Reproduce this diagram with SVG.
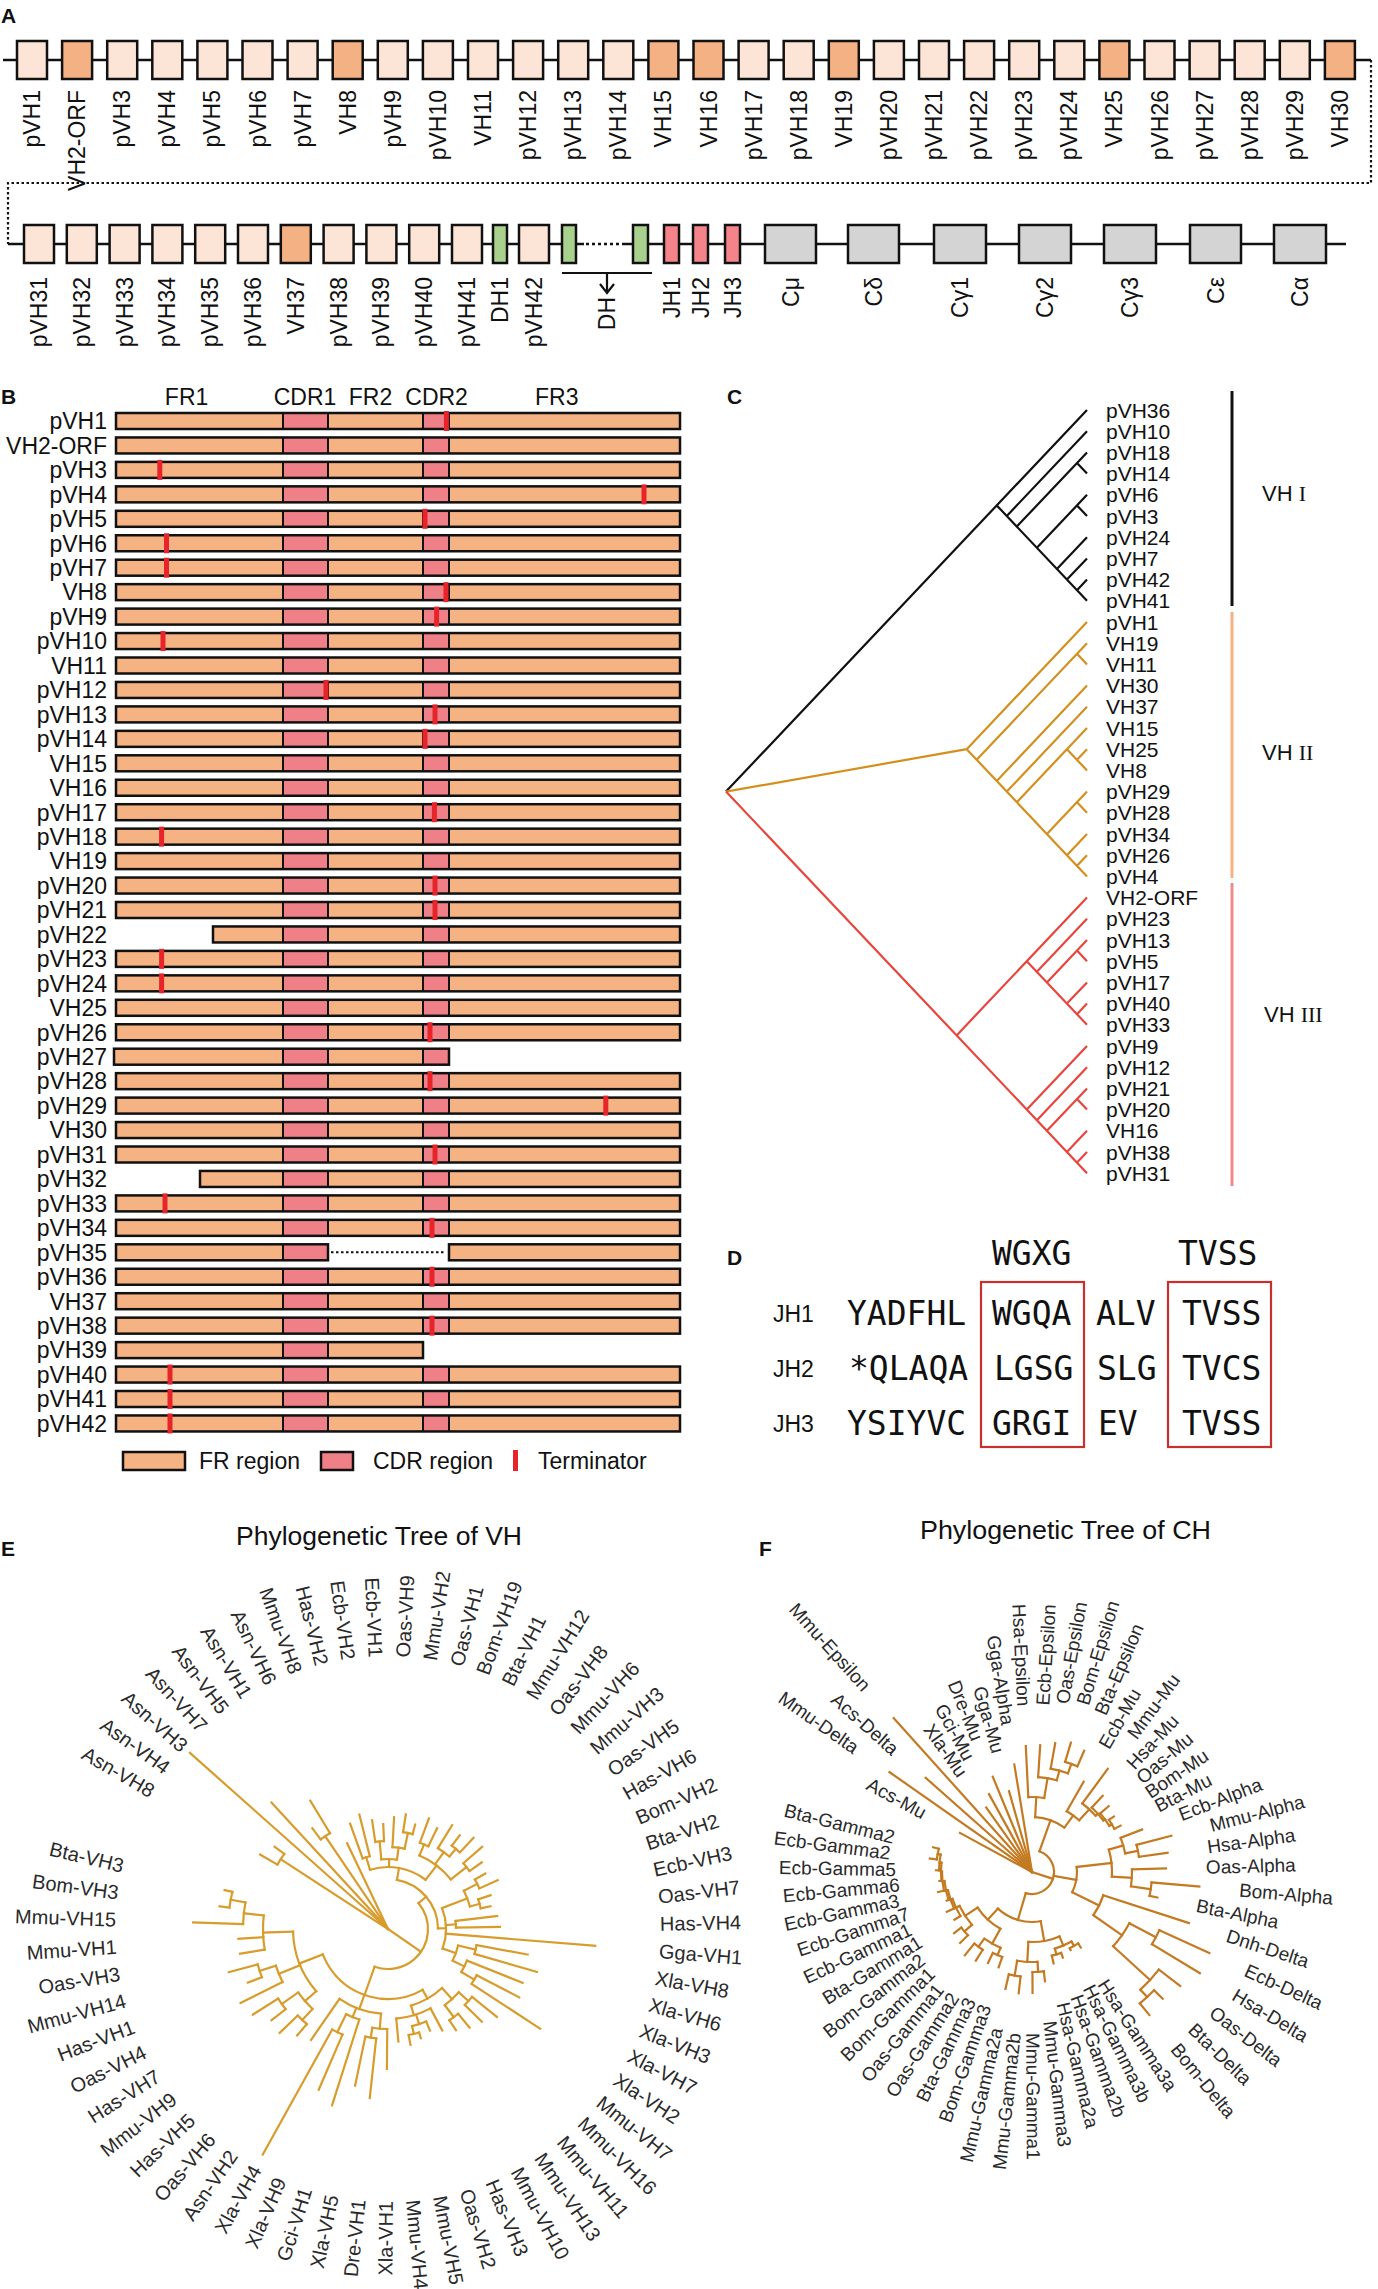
<svg xmlns="http://www.w3.org/2000/svg" width="1378" height="2289" viewBox="0 0 1378 2289">
<style>
text{font-family:"Liberation Sans",Arial,"DejaVu Sans",sans-serif;fill:#111}
.pl{font-size:21px;font-weight:bold}
.ga{font-size:23px}
.bx{stroke:#111;stroke-width:2.5}
.lt{fill:#FCE4D6}.dk{fill:#F4B183}.gr{fill:#A9D18E}.jr{fill:#F4838A}.gy{fill:#D4D4D4}
.fr{fill:#F5B283}.cd{fill:#EF8088}.tm{fill:#E8242B}
.ol{fill:none;stroke:#111;stroke-width:2.5}
.dv{stroke:#111;stroke-width:2}
.cl{font-size:21px}
.ck{fill:none;stroke:#111;stroke-width:2.2}
.co{fill:none;stroke:#D4901E;stroke-width:2.2}
.cr{fill:none;stroke:#E8453D;stroke-width:2.2}
.mono{font-family:"DejaVu Sans Mono","Liberation Mono",monospace;font-size:33px}
.e{fill:none;stroke:#D89C2C;stroke-width:2.2;stroke-linecap:square}
.f{fill:none;stroke:#C47A22;stroke-width:2.2;stroke-linecap:square}
.el{font-size:20px;fill:#2a2a2a}
.fl{font-size:19px;fill:#2a2a2a}
</style>
<defs>
<g id="bar">
<rect x="116" y="0" width="564" height="16" class="fr"/>
<rect x="283" y="0" width="45" height="16" class="cd"/>
<rect x="423" y="0" width="26" height="16" class="cd"/>
<path d="M283,0V16M328,0V16M423,0V16M449,0V16" class="dv"/>
<rect x="116" y="0" width="564" height="16" class="ol"/>
</g>
</defs>
<rect width="1378" height="2289" fill="#fff"/>

<!-- ===== Panel A ===== -->
<text class="pl" x="1" y="23">A</text>
<g id="connectors-A">
<path d="M3,60H1371" stroke="#111" stroke-width="2.5"/>
<path d="M1371,60V183H8V244" fill="none" stroke="#111" stroke-width="2.2" stroke-dasharray="2.5 2.5"/>
<path d="M8,244H584M622,244H1346" stroke="#111" stroke-width="2.5"/>
<path d="M586,244H622" stroke="#111" stroke-width="2.5" stroke-dasharray="3 3"/>
<path d="M562,273H652M607,273V292M600,284L607,293L614,284" fill="none" stroke="#111" stroke-width="2.2"/>
</g>
<g id="row1">
<g id="a-pVH1"><rect x="17" y="41" width="30" height="38" class="lt bx"/><text class="ga" text-anchor="end" dy="8" transform="translate(32,90) rotate(-90)">pVH1</text></g>
<g id="a-VH2-ORF"><rect x="62.1" y="41" width="30" height="38" class="dk bx"/><text class="ga" text-anchor="end" dy="8" transform="translate(77.1,90) rotate(-90)">VH2-ORF</text></g>
<g id="a-pVH3"><rect x="107.2" y="41" width="30" height="38" class="lt bx"/><text class="ga" text-anchor="end" dy="8" transform="translate(122.2,90) rotate(-90)">pVH3</text></g>
<g id="a-pVH4"><rect x="152.3" y="41" width="30" height="38" class="lt bx"/><text class="ga" text-anchor="end" dy="8" transform="translate(167.3,90) rotate(-90)">pVH4</text></g>
<g id="a-pVH5"><rect x="197.4" y="41" width="30" height="38" class="lt bx"/><text class="ga" text-anchor="end" dy="8" transform="translate(212.4,90) rotate(-90)">pVH5</text></g>
<g id="a-pVH6"><rect x="242.5" y="41" width="30" height="38" class="lt bx"/><text class="ga" text-anchor="end" dy="8" transform="translate(257.5,90) rotate(-90)">pVH6</text></g>
<g id="a-pVH7"><rect x="287.6" y="41" width="30" height="38" class="lt bx"/><text class="ga" text-anchor="end" dy="8" transform="translate(302.6,90) rotate(-90)">pVH7</text></g>
<g id="a-VH8"><rect x="332.7" y="41" width="30" height="38" class="dk bx"/><text class="ga" text-anchor="end" dy="8" transform="translate(347.7,90) rotate(-90)">VH8</text></g>
<g id="a-pVH9"><rect x="377.8" y="41" width="30" height="38" class="lt bx"/><text class="ga" text-anchor="end" dy="8" transform="translate(392.8,90) rotate(-90)">pVH9</text></g>
<g id="a-pVH10"><rect x="422.9" y="41" width="30" height="38" class="lt bx"/><text class="ga" text-anchor="end" dy="8" transform="translate(437.9,90) rotate(-90)">pVH10</text></g>
<g id="a-VH11"><rect x="468" y="41" width="30" height="38" class="lt bx"/><text class="ga" text-anchor="end" dy="8" transform="translate(483,90) rotate(-90)">VH11</text></g>
<g id="a-pVH12"><rect x="513.1" y="41" width="30" height="38" class="lt bx"/><text class="ga" text-anchor="end" dy="8" transform="translate(528.1,90) rotate(-90)">pVH12</text></g>
<g id="a-pVH13"><rect x="558.2" y="41" width="30" height="38" class="lt bx"/><text class="ga" text-anchor="end" dy="8" transform="translate(573.2,90) rotate(-90)">pVH13</text></g>
<g id="a-pVH14"><rect x="603.3" y="41" width="30" height="38" class="lt bx"/><text class="ga" text-anchor="end" dy="8" transform="translate(618.3,90) rotate(-90)">pVH14</text></g>
<g id="a-VH15"><rect x="648.4" y="41" width="30" height="38" class="dk bx"/><text class="ga" text-anchor="end" dy="8" transform="translate(663.4,90) rotate(-90)">VH15</text></g>
<g id="a-VH16"><rect x="693.5" y="41" width="30" height="38" class="dk bx"/><text class="ga" text-anchor="end" dy="8" transform="translate(708.5,90) rotate(-90)">VH16</text></g>
<g id="a-pVH17"><rect x="738.6" y="41" width="30" height="38" class="lt bx"/><text class="ga" text-anchor="end" dy="8" transform="translate(753.6,90) rotate(-90)">pVH17</text></g>
<g id="a-pVH18"><rect x="783.7" y="41" width="30" height="38" class="lt bx"/><text class="ga" text-anchor="end" dy="8" transform="translate(798.7,90) rotate(-90)">pVH18</text></g>
<g id="a-VH19"><rect x="828.8" y="41" width="30" height="38" class="dk bx"/><text class="ga" text-anchor="end" dy="8" transform="translate(843.8,90) rotate(-90)">VH19</text></g>
<g id="a-pVH20"><rect x="873.9" y="41" width="30" height="38" class="lt bx"/><text class="ga" text-anchor="end" dy="8" transform="translate(888.9,90) rotate(-90)">pVH20</text></g>
<g id="a-pVH21"><rect x="919" y="41" width="30" height="38" class="lt bx"/><text class="ga" text-anchor="end" dy="8" transform="translate(934,90) rotate(-90)">pVH21</text></g>
<g id="a-pVH22"><rect x="964.1" y="41" width="30" height="38" class="lt bx"/><text class="ga" text-anchor="end" dy="8" transform="translate(979.1,90) rotate(-90)">pVH22</text></g>
<g id="a-pVH23"><rect x="1009.2" y="41" width="30" height="38" class="lt bx"/><text class="ga" text-anchor="end" dy="8" transform="translate(1024.2,90) rotate(-90)">pVH23</text></g>
<g id="a-pVH24"><rect x="1054.3" y="41" width="30" height="38" class="lt bx"/><text class="ga" text-anchor="end" dy="8" transform="translate(1069.3,90) rotate(-90)">pVH24</text></g>
<g id="a-VH25"><rect x="1099.4" y="41" width="30" height="38" class="dk bx"/><text class="ga" text-anchor="end" dy="8" transform="translate(1114.4,90) rotate(-90)">VH25</text></g>
<g id="a-pVH26"><rect x="1144.5" y="41" width="30" height="38" class="lt bx"/><text class="ga" text-anchor="end" dy="8" transform="translate(1159.5,90) rotate(-90)">pVH26</text></g>
<g id="a-pVH27"><rect x="1189.6" y="41" width="30" height="38" class="lt bx"/><text class="ga" text-anchor="end" dy="8" transform="translate(1204.6,90) rotate(-90)">pVH27</text></g>
<g id="a-pVH28"><rect x="1234.7" y="41" width="30" height="38" class="lt bx"/><text class="ga" text-anchor="end" dy="8" transform="translate(1249.7,90) rotate(-90)">pVH28</text></g>
<g id="a-pVH29"><rect x="1279.8" y="41" width="30" height="38" class="lt bx"/><text class="ga" text-anchor="end" dy="8" transform="translate(1294.8,90) rotate(-90)">pVH29</text></g>
<g id="a-VH30"><rect x="1324.9" y="41" width="30" height="38" class="dk bx"/><text class="ga" text-anchor="end" dy="8" transform="translate(1339.9,90) rotate(-90)">VH30</text></g>
</g>
<g id="row2">
<g id="a-pVH31"><rect x="24" y="225" width="30" height="38" class="lt bx"/><text class="ga" text-anchor="end" dy="8" transform="translate(39,277) rotate(-90)">pVH31</text></g>
<g id="a-pVH32"><rect x="66.8" y="225" width="30" height="38" class="lt bx"/><text class="ga" text-anchor="end" dy="8" transform="translate(81.8,277) rotate(-90)">pVH32</text></g>
<g id="a-pVH33"><rect x="109.6" y="225" width="30" height="38" class="lt bx"/><text class="ga" text-anchor="end" dy="8" transform="translate(124.6,277) rotate(-90)">pVH33</text></g>
<g id="a-pVH34"><rect x="152.4" y="225" width="30" height="38" class="lt bx"/><text class="ga" text-anchor="end" dy="8" transform="translate(167.4,277) rotate(-90)">pVH34</text></g>
<g id="a-pVH35"><rect x="195.2" y="225" width="30" height="38" class="lt bx"/><text class="ga" text-anchor="end" dy="8" transform="translate(210.2,277) rotate(-90)">pVH35</text></g>
<g id="a-pVH36"><rect x="238" y="225" width="30" height="38" class="lt bx"/><text class="ga" text-anchor="end" dy="8" transform="translate(253,277) rotate(-90)">pVH36</text></g>
<g id="a-VH37"><rect x="280.8" y="225" width="30" height="38" class="dk bx"/><text class="ga" text-anchor="end" dy="8" transform="translate(295.8,277) rotate(-90)">VH37</text></g>
<g id="a-pVH38"><rect x="323.6" y="225" width="30" height="38" class="lt bx"/><text class="ga" text-anchor="end" dy="8" transform="translate(338.6,277) rotate(-90)">pVH38</text></g>
<g id="a-pVH39"><rect x="366.4" y="225" width="30" height="38" class="lt bx"/><text class="ga" text-anchor="end" dy="8" transform="translate(381.4,277) rotate(-90)">pVH39</text></g>
<g id="a-pVH40"><rect x="409.2" y="225" width="30" height="38" class="lt bx"/><text class="ga" text-anchor="end" dy="8" transform="translate(424.2,277) rotate(-90)">pVH40</text></g>
<g id="a-pVH41"><rect x="452" y="225" width="30" height="38" class="lt bx"/><text class="ga" text-anchor="end" dy="8" transform="translate(467,277) rotate(-90)">pVH41</text></g>
<g id="a-DH1"><rect x="493" y="225" width="14" height="38" class="gr bx"/><text class="ga" text-anchor="end" dy="8" transform="translate(500,277) rotate(-90)">DH1</text></g>
<g id="a-pVH42"><rect x="519" y="225" width="30" height="38" class="lt bx"/><text class="ga" text-anchor="end" dy="8" transform="translate(534,277) rotate(-90)">pVH42</text></g>
<g id="a-DH"><rect x="562" y="225" width="14" height="38" class="gr bx"/><rect x="633" y="225" width="15" height="38" class="gr bx"/><text class="ga" text-anchor="end" dy="8" transform="translate(607,297) rotate(-90)">DH</text></g>
<g id="a-JH1"><rect x="664" y="225" width="15" height="38" class="jr bx"/><text class="ga" text-anchor="end" dy="8" transform="translate(671.5,277) rotate(-90)">JH1</text></g>
<g id="a-JH2"><rect x="693" y="225" width="15" height="38" class="jr bx"/><text class="ga" text-anchor="end" dy="8" transform="translate(700.5,277) rotate(-90)">JH2</text></g>
<g id="a-JH3"><rect x="725" y="225" width="15" height="38" class="jr bx"/><text class="ga" text-anchor="end" dy="8" transform="translate(732.5,277) rotate(-90)">JH3</text></g>
<g id="a-Cmu"><rect x="765" y="225" width="51" height="38" class="gy bx"/><text class="ga" text-anchor="end" dy="8" transform="translate(790.5,277) rotate(-90)">Cμ</text></g>
<g id="a-Cdelta"><rect x="848" y="225" width="51" height="38" class="gy bx"/><text class="ga" text-anchor="end" dy="8" transform="translate(873.5,277) rotate(-90)">Cδ</text></g>
<g id="a-Cgamma1"><rect x="934" y="225" width="52" height="38" class="gy bx"/><text class="ga" text-anchor="end" dy="8" transform="translate(960,277) rotate(-90)">Cγ1</text></g>
<g id="a-Cgamma2"><rect x="1019" y="225" width="52" height="38" class="gy bx"/><text class="ga" text-anchor="end" dy="8" transform="translate(1045,277) rotate(-90)">Cγ2</text></g>
<g id="a-Cgamma3"><rect x="1104" y="225" width="52" height="38" class="gy bx"/><text class="ga" text-anchor="end" dy="8" transform="translate(1130,277) rotate(-90)">Cγ3</text></g>
<g id="a-Cepsilon"><rect x="1190" y="225" width="51" height="38" class="gy bx"/><text class="ga" text-anchor="end" dy="8" transform="translate(1215.5,277) rotate(-90)">Cε</text></g>
<g id="a-Calpha"><rect x="1274" y="225" width="52" height="38" class="gy bx"/><text class="ga" text-anchor="end" dy="8" transform="translate(1300,277) rotate(-90)">Cα</text></g>
</g>

<!-- ===== Panel B ===== -->
<text class="pl" x="1" y="404">B</text>
<g id="b-header" class="ga">
<text x="186.6" y="405" text-anchor="middle" class="ga">FR1</text>
<text x="305" y="405" text-anchor="middle" class="ga">CDR1</text>
<text x="370.5" y="405" text-anchor="middle" class="ga">FR2</text>
<text x="436.6" y="405" text-anchor="middle" class="ga">CDR2</text>
<text x="556.7" y="405" text-anchor="middle" class="ga">FR3</text>
</g>
<g id="b-rows">
<g id="b-pVH1"><text x="107" y="429.3" text-anchor="end" class="ga">pVH1</text><use href="#bar" y="413"/><rect class="tm" x="443.9" y="411" width="5" height="20"/></g>
<g id="b-VH2-ORF"><text x="107" y="453.75" text-anchor="end" class="ga">VH2-ORF</text><use href="#bar" y="437.45"/></g>
<g id="b-pVH3"><text x="107" y="478.2" text-anchor="end" class="ga">pVH3</text><use href="#bar" y="461.9"/><rect class="tm" x="157.3" y="459.9" width="5" height="20"/></g>
<g id="b-pVH4"><text x="107" y="502.65" text-anchor="end" class="ga">pVH4</text><use href="#bar" y="486.35"/><rect class="tm" x="641.5" y="484.35" width="5" height="20"/></g>
<g id="b-pVH5"><text x="107" y="527.1" text-anchor="end" class="ga">pVH5</text><use href="#bar" y="510.8"/><rect class="tm" x="422.5" y="508.8" width="5" height="20"/></g>
<g id="b-pVH6"><text x="107" y="551.55" text-anchor="end" class="ga">pVH6</text><use href="#bar" y="535.25"/><rect class="tm" x="164" y="533.25" width="5" height="20"/></g>
<g id="b-pVH7"><text x="107" y="576" text-anchor="end" class="ga">pVH7</text><use href="#bar" y="559.7"/><rect class="tm" x="164" y="557.7" width="5" height="20"/></g>
<g id="b-VH8"><text x="107" y="600.45" text-anchor="end" class="ga">VH8</text><use href="#bar" y="584.15"/><rect class="tm" x="443.5" y="582.15" width="5" height="20"/></g>
<g id="b-pVH9"><text x="107" y="624.9" text-anchor="end" class="ga">pVH9</text><use href="#bar" y="608.6"/><rect class="tm" x="434.1" y="606.6" width="5" height="20"/></g>
<g id="b-pVH10"><text x="107" y="649.35" text-anchor="end" class="ga">pVH10</text><use href="#bar" y="633.05"/><rect class="tm" x="160.5" y="631.05" width="5" height="20"/></g>
<g id="b-VH11"><text x="107" y="673.8" text-anchor="end" class="ga">VH11</text><use href="#bar" y="657.5"/></g>
<g id="b-pVH12"><text x="107" y="698.25" text-anchor="end" class="ga">pVH12</text><use href="#bar" y="681.95"/><rect class="tm" x="323.5" y="679.95" width="5" height="20"/></g>
<g id="b-pVH13"><text x="107" y="722.7" text-anchor="end" class="ga">pVH13</text><use href="#bar" y="706.4"/><rect class="tm" x="432.5" y="704.4" width="5" height="20"/></g>
<g id="b-pVH14"><text x="107" y="747.15" text-anchor="end" class="ga">pVH14</text><use href="#bar" y="730.85"/><rect class="tm" x="422.5" y="728.85" width="5" height="20"/></g>
<g id="b-VH15"><text x="107" y="771.6" text-anchor="end" class="ga">VH15</text><use href="#bar" y="755.3"/></g>
<g id="b-VH16"><text x="107" y="796.05" text-anchor="end" class="ga">VH16</text><use href="#bar" y="779.75"/></g>
<g id="b-pVH17"><text x="107" y="820.5" text-anchor="end" class="ga">pVH17</text><use href="#bar" y="804.2"/><rect class="tm" x="431.9" y="802.2" width="5" height="20"/></g>
<g id="b-pVH18"><text x="107" y="844.95" text-anchor="end" class="ga">pVH18</text><use href="#bar" y="828.65"/><rect class="tm" x="159.1" y="826.65" width="5" height="20"/></g>
<g id="b-VH19"><text x="107" y="869.4" text-anchor="end" class="ga">VH19</text><use href="#bar" y="853.1"/></g>
<g id="b-pVH20"><text x="107" y="893.85" text-anchor="end" class="ga">pVH20</text><use href="#bar" y="877.55"/><rect class="tm" x="432.5" y="875.55" width="5" height="20"/></g>
<g id="b-pVH21"><text x="107" y="918.3" text-anchor="end" class="ga">pVH21</text><use href="#bar" y="902"/><rect class="tm" x="432.5" y="900" width="5" height="20"/></g>
<g id="b-pVH22"><text x="107" y="942.75" text-anchor="end" class="ga">pVH22</text><g transform="translate(0,926.45)"><rect x="213" y="0" width="467" height="16" class="fr"/><rect x="283" y="0" width="45" height="16" class="cd"/><rect x="423" y="0" width="26" height="16" class="cd"/><path d="M283,0V16M328,0V16M423,0V16M449,0V16" class="dv"/><rect x="213" y="0" width="467" height="16" class="ol"/></g></g>
<g id="b-pVH23"><text x="107" y="967.2" text-anchor="end" class="ga">pVH23</text><use href="#bar" y="950.9"/><rect class="tm" x="159.1" y="948.9" width="5" height="20"/></g>
<g id="b-pVH24"><text x="107" y="991.65" text-anchor="end" class="ga">pVH24</text><use href="#bar" y="975.35"/><rect class="tm" x="159.1" y="973.35" width="5" height="20"/></g>
<g id="b-VH25"><text x="107" y="1016.1" text-anchor="end" class="ga">VH25</text><use href="#bar" y="999.8"/></g>
<g id="b-pVH26"><text x="107" y="1040.55" text-anchor="end" class="ga">pVH26</text><use href="#bar" y="1024.25"/><rect class="tm" x="427.5" y="1022.25" width="5" height="20"/></g>
<g id="b-pVH27"><text x="107" y="1065" text-anchor="end" class="ga">pVH27</text><g transform="translate(0,1048.7)"><rect x="114" y="0" width="335" height="16" class="fr"/><rect x="283" y="0" width="45" height="16" class="cd"/><rect x="423" y="0" width="26" height="16" class="cd"/><path d="M283,0V16M328,0V16M423,0V16" class="dv"/><rect x="114" y="0" width="335" height="16" class="ol"/></g></g>
<g id="b-pVH28"><text x="107" y="1089.45" text-anchor="end" class="ga">pVH28</text><use href="#bar" y="1073.15"/><rect class="tm" x="427.5" y="1071.15" width="5" height="20"/></g>
<g id="b-pVH29"><text x="107" y="1113.9" text-anchor="end" class="ga">pVH29</text><use href="#bar" y="1097.6"/><rect class="tm" x="603.3" y="1095.6" width="5" height="20"/></g>
<g id="b-VH30"><text x="107" y="1138.35" text-anchor="end" class="ga">VH30</text><use href="#bar" y="1122.05"/></g>
<g id="b-pVH31"><text x="107" y="1162.8" text-anchor="end" class="ga">pVH31</text><use href="#bar" y="1146.5"/><rect class="tm" x="432.5" y="1144.5" width="5" height="20"/></g>
<g id="b-pVH32"><text x="107" y="1187.25" text-anchor="end" class="ga">pVH32</text><g transform="translate(0,1170.95)"><rect x="200" y="0" width="480" height="16" class="fr"/><rect x="283" y="0" width="45" height="16" class="cd"/><rect x="423" y="0" width="26" height="16" class="cd"/><path d="M283,0V16M328,0V16M423,0V16M449,0V16" class="dv"/><rect x="200" y="0" width="480" height="16" class="ol"/></g></g>
<g id="b-pVH33"><text x="107" y="1211.7" text-anchor="end" class="ga">pVH33</text><use href="#bar" y="1195.4"/><rect class="tm" x="162.5" y="1193.4" width="5" height="20"/></g>
<g id="b-pVH34"><text x="107" y="1236.15" text-anchor="end" class="ga">pVH34</text><use href="#bar" y="1219.85"/><rect class="tm" x="429.5" y="1217.85" width="5" height="20"/></g>
<g id="b-pVH35"><text x="107" y="1260.6" text-anchor="end" class="ga">pVH35</text><g transform="translate(0,1244.3)"><rect x="116" y="0" width="212" height="16" class="fr"/><rect x="283" y="0" width="45" height="16" class="cd"/><path d="M283,0V16" class="dv"/><rect x="116" y="0" width="212" height="16" class="ol"/><path d="M331,8H446" stroke="#111" stroke-width="2" stroke-dasharray="2.5 2.5"/><rect x="449" y="0" width="231" height="16" class="fr"/><rect x="449" y="0" width="231" height="16" class="ol"/></g></g>
<g id="b-pVH36"><text x="107" y="1285.05" text-anchor="end" class="ga">pVH36</text><use href="#bar" y="1268.75"/><rect class="tm" x="429.5" y="1266.75" width="5" height="20"/></g>
<g id="b-VH37"><text x="107" y="1309.5" text-anchor="end" class="ga">VH37</text><use href="#bar" y="1293.2"/></g>
<g id="b-pVH38"><text x="107" y="1333.95" text-anchor="end" class="ga">pVH38</text><use href="#bar" y="1317.65"/><rect class="tm" x="429.5" y="1315.65" width="5" height="20"/></g>
<g id="b-pVH39"><text x="107" y="1358.4" text-anchor="end" class="ga">pVH39</text><g transform="translate(0,1342.1)"><rect x="116" y="0" width="307" height="16" class="fr"/><rect x="283" y="0" width="45" height="16" class="cd"/><path d="M283,0V16M328,0V16" class="dv"/><rect x="116" y="0" width="307" height="16" class="ol"/></g></g>
<g id="b-pVH40"><text x="107" y="1382.85" text-anchor="end" class="ga">pVH40</text><use href="#bar" y="1366.55"/><rect class="tm" x="167.5" y="1364.55" width="5" height="20"/></g>
<g id="b-pVH41"><text x="107" y="1407.3" text-anchor="end" class="ga">pVH41</text><use href="#bar" y="1391"/><rect class="tm" x="167.5" y="1389" width="5" height="20"/></g>
<g id="b-pVH42"><text x="107" y="1431.75" text-anchor="end" class="ga">pVH42</text><use href="#bar" y="1415.45"/><rect class="tm" x="167.5" y="1413.45" width="5" height="20"/></g>
</g>
<g id="b-legend">
<rect x="123" y="1452" width="62" height="18" class="fr"/><rect x="123" y="1452" width="62" height="18" class="ol"/>
<text x="199" y="1469" class="ga">FR region</text>
<rect x="321" y="1452" width="32" height="18" class="cd"/><rect x="321" y="1452" width="32" height="18" class="ol"/>
<text x="373" y="1469" class="ga">CDR region</text>
<rect x="513" y="1450" width="5" height="21" class="tm"/>
<text x="538" y="1469" class="ga">Terminator</text>
</g>

<!-- ===== Panel C ===== -->
<text class="pl" x="727" y="404">C</text>
<g id="connectors-C">
<path class="ck" d="M726,791.6L1087,410M996.75,505.4L1087,600.8M1006.8,516L1087,431.2M1016.8,526.6L1087,452.4M1077,463L1087,473.6M1036.9,547.8L1087,494.8M1077,505.4L1087,516M1056.9,569L1087,537.2M1066.9,579.6L1087,558.4M1077,590.2L1087,579.6"/>
<path class="co" d="M726,791.6L966.7,749.2M966.7,749.2L1087,622M966.7,749.2L1087,876.4M976.7,759.8L1087,643.2M1077,653.8L1087,664.4M996.75,781L1087,685.6M1006.8,791.6L1087,706.8M1016.8,802.2L1087,728M1066.9,749.2L1087,770.4M1077,759.8L1087,749.2M1046.9,834L1087,791.6M1077,802.2L1087,812.8M1066.9,855.2L1087,834M1077,865.8L1087,855.2"/>
<path class="cr" d="M726,791.6L1087,1173.2M956.6,1035.4L1087,897.6M1026.8,961.2L1087,1024.8M1036.9,971.8L1087,918.8M1046.9,982.4L1087,940M1077,950.6L1087,961.2M1066.9,1003.6L1087,982.4M1077,1014.2L1087,1003.6M1026.8,1109.6L1087,1046M1036.9,1120.2L1087,1067.2M1046.9,1130.8L1087,1088.4M1077,1099L1087,1109.6M1066.9,1152L1087,1130.8M1077,1162.6L1087,1152"/>
</g>
<g id="c-leaves">
<text x="1106" y="417.5" class="cl">pVH36</text>
<text x="1106" y="438.7" class="cl">pVH10</text>
<text x="1106" y="459.9" class="cl">pVH18</text>
<text x="1106" y="481.1" class="cl">pVH14</text>
<text x="1106" y="502.3" class="cl">pVH6</text>
<text x="1106" y="523.5" class="cl">pVH3</text>
<text x="1106" y="544.7" class="cl">pVH24</text>
<text x="1106" y="565.9" class="cl">pVH7</text>
<text x="1106" y="587.1" class="cl">pVH42</text>
<text x="1106" y="608.3" class="cl">pVH41</text>
<text x="1106" y="629.5" class="cl">pVH1</text>
<text x="1106" y="650.7" class="cl">VH19</text>
<text x="1106" y="671.9" class="cl">VH11</text>
<text x="1106" y="693.1" class="cl">VH30</text>
<text x="1106" y="714.3" class="cl">VH37</text>
<text x="1106" y="735.5" class="cl">VH15</text>
<text x="1106" y="756.7" class="cl">VH25</text>
<text x="1106" y="777.9" class="cl">VH8</text>
<text x="1106" y="799.1" class="cl">pVH29</text>
<text x="1106" y="820.3" class="cl">pVH28</text>
<text x="1106" y="841.5" class="cl">pVH34</text>
<text x="1106" y="862.7" class="cl">pVH26</text>
<text x="1106" y="883.9" class="cl">pVH4</text>
<text x="1106" y="905.1" class="cl">VH2-ORF</text>
<text x="1106" y="926.3" class="cl">pVH23</text>
<text x="1106" y="947.5" class="cl">pVH13</text>
<text x="1106" y="968.7" class="cl">pVH5</text>
<text x="1106" y="989.9" class="cl">pVH17</text>
<text x="1106" y="1011.1" class="cl">pVH40</text>
<text x="1106" y="1032.3" class="cl">pVH33</text>
<text x="1106" y="1053.5" class="cl">pVH9</text>
<text x="1106" y="1074.7" class="cl">pVH12</text>
<text x="1106" y="1095.9" class="cl">pVH21</text>
<text x="1106" y="1117.1" class="cl">pVH20</text>
<text x="1106" y="1138.3" class="cl">VH16</text>
<text x="1106" y="1159.5" class="cl">pVH38</text>
<text x="1106" y="1180.7" class="cl">pVH31</text>
</g>
<g id="c-clades">
<path d="M1232,391V606" stroke="#111" stroke-width="3"/>
<path d="M1232,612V878" stroke="#F4B183" stroke-width="3"/>
<path d="M1232,883V1186" stroke="#EE8A8A" stroke-width="3"/>
<text x="1262" y="501" font-size="22">VH <tspan font-family="Liberation Serif,serif">I</tspan></text>
<text x="1262" y="760" font-size="22">VH <tspan font-family="Liberation Serif,serif">II</tspan></text>
<text x="1264" y="1022" font-size="22">VH <tspan font-family="Liberation Serif,serif">III</tspan></text>
</g>

<!-- ===== Panel D ===== -->
<text class="pl" x="727" y="1265">D</text>
<g id="d-motifs">
<text class="mono" x="992" y="1265">WGXG</text>
<text class="mono" x="1178" y="1265">TVSS</text>
</g>
<g id="d-JH1"><text x="773" y="1322" font-size="23">JH1</text><text class="mono" x="847" y="1325">YADFHL</text><text class="mono" x="992" y="1325">WGQA</text><text class="mono" x="1096" y="1325">ALV</text><text class="mono" x="1182" y="1325">TVSS</text></g>
<g id="d-JH2"><text x="773" y="1377" font-size="23">JH2</text><text class="mono" x="849" y="1380">*QLAQA</text><text class="mono" x="994" y="1380">LGSG</text><text class="mono" x="1097" y="1380">SLG</text><text class="mono" x="1182" y="1380">TVCS</text></g>
<g id="d-JH3"><text x="773" y="1432" font-size="23">JH3</text><text class="mono" x="847" y="1435">YSIYVC</text><text class="mono" x="992" y="1435">GRGI</text><text class="mono" x="1098" y="1435">EV</text><text class="mono" x="1182" y="1435">TVSS</text></g>
<g id="d-boxes" fill="none" stroke="#C9302C" stroke-width="2.2">
<rect x="981" y="1282" width="103" height="165"/>
<rect x="1168" y="1282" width="103" height="165"/>
</g>

<!-- ===== Panel E ===== -->
<text class="pl" x="1" y="1556">E</text>
<text x="236" y="1545" font-size="25" textLength="286" lengthAdjust="spacingAndGlyphs">Phylogenetic Tree of VH</text>
<g id="e-tree" transform="translate(388,1929)">
<g id="connectors-E" class="e">
<path d="M0,0H265" transform="rotate(221.64)"/>
<path d="M0,0H128" transform="rotate(213.06)"/>
<path d="M0,0H172" transform="rotate(227.36)"/>
<path d="M0,0H112" transform="rotate(235.94)"/>
<path d="M0,0H95" transform="rotate(244.52)"/>
<path d="M0,0H40" transform="rotate(394.67)"/>
<circle r="128" pathLength="360" stroke-dasharray="5.72 360" transform="rotate(210.2)"/>
<path d="M128,0H148" transform="rotate(210.2)"/><path d="M128,0H140" transform="rotate(215.92)"/>
<circle r="112" pathLength="360" stroke-dasharray="5.72 360" transform="rotate(233.08)"/>
<path d="M112,0H126" transform="rotate(233.08)"/><path d="M112,0H150" transform="rotate(238.8)"/>
<circle r="40" pathLength="360" stroke-dasharray="149.79 360" transform="rotate(319.775)"/>
<path d="M40,0H50" transform="rotate(319.775)"/><path d="M40,0H70" transform="rotate(469.565)"/>
<circle r="50" pathLength="360" stroke-dasharray="79.01 360" transform="rotate(280.27)"/>
<path d="M50,0H62" transform="rotate(280.27)"/><path d="M50,0H58" transform="rotate(359.28)"/>
<circle r="62" pathLength="360" stroke-dasharray="54.34 360" transform="rotate(253.1)"/>
<path d="M62,0H75" transform="rotate(253.1)"/><path d="M62,0H70" transform="rotate(270.975)"/><path d="M62,0H80" transform="rotate(307.44)"/>
<circle r="75" pathLength="360" stroke-dasharray="5.72 360" transform="rotate(250.24)"/>
<path d="M75,0H112" transform="rotate(250.24)"/><path d="M75,0H118" transform="rotate(255.96)"/>
<circle r="70" pathLength="360" stroke-dasharray="12.87 360" transform="rotate(264.54)"/>
<path d="M70,0H88" transform="rotate(264.54)"/><path d="M70,0H82" transform="rotate(277.41)"/>
<circle r="88" pathLength="360" stroke-dasharray="5.72 360" transform="rotate(261.68)"/>
<path d="M88,0H110" transform="rotate(261.68)"/><path d="M88,0H105" transform="rotate(267.4)"/>
<circle r="82" pathLength="360" stroke-dasharray="8.58 360" transform="rotate(273.12)"/>
<path d="M82,0H112" transform="rotate(273.12)"/><path d="M82,0H98" transform="rotate(281.7)"/>
<circle r="98" pathLength="360" stroke-dasharray="5.72 360" transform="rotate(278.84)"/>
<path d="M98,0H116" transform="rotate(278.84)"/><path d="M98,0H108" transform="rotate(284.56)"/>
<circle r="80" pathLength="360" stroke-dasharray="28.6 360" transform="rotate(293.14)"/>
<path d="M80,0H92" transform="rotate(293.14)"/><path d="M80,0H95" transform="rotate(306.01)"/><path d="M80,0H100" transform="rotate(321.74)"/>
<circle r="92" pathLength="360" stroke-dasharray="5.72 360" transform="rotate(290.28)"/>
<path d="M92,0H118" transform="rotate(290.28)"/><path d="M92,0H112" transform="rotate(296)"/>
<circle r="95" pathLength="360" stroke-dasharray="8.58 360" transform="rotate(301.72)"/>
<path d="M95,0H122" transform="rotate(301.72)"/><path d="M95,0H105" transform="rotate(310.3)"/>
<circle r="105" pathLength="360" stroke-dasharray="5.72 360" transform="rotate(307.44)"/>
<path d="M105,0H118" transform="rotate(307.44)"/><path d="M105,0H125" transform="rotate(313.16)"/>
<circle r="100" pathLength="360" stroke-dasharray="5.72 360" transform="rotate(318.88)"/>
<path d="M100,0H125" transform="rotate(318.88)"/><path d="M100,0H115" transform="rotate(324.6)"/>
<circle r="58" pathLength="360" stroke-dasharray="40.755 360" transform="rotate(338.9)"/>
<path d="M58,0H85" transform="rotate(338.9)"/><path d="M58,0H68" transform="rotate(356.06)"/><path d="M58,0H208" transform="rotate(364.64)"/><path d="M58,0H72" transform="rotate(379.655)"/>
<circle r="85" pathLength="360" stroke-dasharray="11.44 360" transform="rotate(333.18)"/>
<path d="M85,0H100" transform="rotate(333.18)"/><path d="M85,0H95" transform="rotate(344.62)"/>
<circle r="100" pathLength="360" stroke-dasharray="5.72 360" transform="rotate(330.32)"/>
<path d="M100,0H112" transform="rotate(330.32)"/><path d="M100,0H120" transform="rotate(336.04)"/>
<circle r="95" pathLength="360" stroke-dasharray="5.72 360" transform="rotate(341.76)"/>
<path d="M95,0H108" transform="rotate(341.76)"/><path d="M95,0H105" transform="rotate(347.48)"/>
<circle r="68" pathLength="360" stroke-dasharray="5.72 360" transform="rotate(353.2)"/>
<path d="M68,0H110" transform="rotate(353.2)"/><path d="M68,0H112" transform="rotate(358.92)"/>
<circle r="72" pathLength="360" stroke-dasharray="12.87 360" transform="rotate(373.22)"/>
<path d="M72,0H90" transform="rotate(373.22)"/><path d="M72,0H85" transform="rotate(386.09)"/>
<circle r="90" pathLength="360" stroke-dasharray="5.72 360" transform="rotate(370.36)"/>
<path d="M90,0H142" transform="rotate(370.36)"/><path d="M90,0H155" transform="rotate(376.08)"/>
<circle r="85" pathLength="360" stroke-dasharray="8.58 360" transform="rotate(381.8)"/>
<path d="M85,0H145" transform="rotate(381.8)"/><path d="M85,0H100" transform="rotate(390.38)"/>
<circle r="100" pathLength="360" stroke-dasharray="5.72 360" transform="rotate(387.52)"/>
<path d="M100,0H148" transform="rotate(387.52)"/><path d="M100,0H182" transform="rotate(393.24)"/>
<circle r="70" pathLength="360" stroke-dasharray="98.31 360" transform="rotate(420.41)"/>
<path d="M70,0H80" transform="rotate(420.41)"/><path d="M70,0H85" transform="rotate(469.745)"/><path d="M70,0H95" transform="rotate(518.72)"/>
<circle r="80" pathLength="360" stroke-dasharray="25.74 360" transform="rotate(407.54)"/>
<path d="M80,0H95" transform="rotate(407.54)"/><path d="M80,0H90" transform="rotate(433.28)"/>
<circle r="95" pathLength="360" stroke-dasharray="11.44 360" transform="rotate(401.82)"/>
<path d="M95,0H108" transform="rotate(401.82)"/><path d="M95,0H110" transform="rotate(413.26)"/>
<circle r="108" pathLength="360" stroke-dasharray="5.72 360" transform="rotate(398.96)"/>
<path d="M108,0H140" transform="rotate(398.96)"/><path d="M108,0H132" transform="rotate(404.68)"/>
<circle r="110" pathLength="360" stroke-dasharray="5.72 360" transform="rotate(410.4)"/>
<path d="M110,0H128" transform="rotate(410.4)"/><path d="M110,0H122" transform="rotate(416.12)"/>
<circle r="90" pathLength="360" stroke-dasharray="22.88 360" transform="rotate(421.84)"/>
<path d="M90,0H115" transform="rotate(421.84)"/><path d="M90,0H100" transform="rotate(431.85)"/><path d="M90,0H113" transform="rotate(444.72)"/>
<circle r="100" pathLength="360" stroke-dasharray="8.58 360" transform="rotate(427.56)"/>
<path d="M100,0H110" transform="rotate(427.56)"/><path d="M100,0H108" transform="rotate(436.14)"/>
<circle r="108" pathLength="360" stroke-dasharray="5.72 360" transform="rotate(433.28)"/>
<path d="M108,0H114" transform="rotate(433.28)"/><path d="M108,0H118" transform="rotate(439)"/>
<circle r="85" pathLength="360" stroke-dasharray="30.03 360" transform="rotate(454.73)"/>
<path d="M85,0H100" transform="rotate(454.73)"/><path d="M85,0H95" transform="rotate(471.89)"/><path d="M85,0H135" transform="rotate(484.76)"/>
<circle r="100" pathLength="360" stroke-dasharray="8.58 360" transform="rotate(450.44)"/>
<path d="M100,0H140" transform="rotate(450.44)"/><path d="M100,0H110" transform="rotate(459.02)"/>
<circle r="110" pathLength="360" stroke-dasharray="5.72 360" transform="rotate(456.16)"/>
<path d="M110,0H170" transform="rotate(456.16)"/><path d="M110,0H160" transform="rotate(461.88)"/>
<circle r="95" pathLength="360" stroke-dasharray="8.58 360" transform="rotate(467.6)"/>
<path d="M95,0H185" transform="rotate(467.6)"/><path d="M95,0H115" transform="rotate(476.18)"/>
<circle r="115" pathLength="360" stroke-dasharray="5.72 360" transform="rotate(473.32)"/>
<path d="M115,0H175" transform="rotate(473.32)"/><path d="M115,0H258" transform="rotate(479.04)"/>
<circle r="95" pathLength="360" stroke-dasharray="39.325 360" transform="rotate(499.06)"/>
<path d="M95,0H110" transform="rotate(499.06)"/><path d="M95,0H118" transform="rotate(517.65)"/><path d="M95,0H125" transform="rotate(538.385)"/>
<circle r="110" pathLength="360" stroke-dasharray="11.44 360" transform="rotate(493.34)"/>
<path d="M110,0H125" transform="rotate(493.34)"/><path d="M110,0H130" transform="rotate(504.78)"/>
<circle r="125" pathLength="360" stroke-dasharray="5.72 360" transform="rotate(490.48)"/>
<path d="M125,0H140" transform="rotate(490.48)"/><path d="M125,0H150" transform="rotate(496.2)"/>
<circle r="130" pathLength="360" stroke-dasharray="5.72 360" transform="rotate(501.92)"/>
<path d="M130,0H148" transform="rotate(501.92)"/><path d="M130,0H160" transform="rotate(507.64)"/>
<circle r="118" pathLength="360" stroke-dasharray="8.58 360" transform="rotate(513.36)"/>
<path d="M118,0H165" transform="rotate(513.36)"/><path d="M118,0H135" transform="rotate(521.94)"/>
<circle r="135" pathLength="360" stroke-dasharray="5.72 360" transform="rotate(519.08)"/>
<path d="M135,0H150" transform="rotate(519.08)"/><path d="M135,0H165" transform="rotate(524.8)"/>
<circle r="125" pathLength="360" stroke-dasharray="15.73 360" transform="rotate(530.52)"/>
<path d="M125,0H150" transform="rotate(530.52)"/><path d="M125,0H150" transform="rotate(536.24)"/><path d="M125,0H145" transform="rotate(546.25)"/>
<circle r="145" pathLength="360" stroke-dasharray="8.58 360" transform="rotate(541.96)"/>
<path d="M145,0H195" transform="rotate(541.96)"/><path d="M145,0H160" transform="rotate(550.54)"/>
<circle r="160" pathLength="360" stroke-dasharray="5.72 360" transform="rotate(547.68)"/>
<path d="M160,0H170" transform="rotate(547.68)"/><path d="M160,0H168" transform="rotate(553.4)"/>
</g>
<g id="e-labels">
<text class="el" dy="7" text-anchor="end" transform="rotate(210.2) translate(272) rotate(180)">Asn-VH8</text>
<text class="el" dy="7" text-anchor="end" transform="rotate(215.92) translate(272) rotate(180)">Asn-VH4</text>
<text class="el" dy="7" text-anchor="end" transform="rotate(221.64) translate(272) rotate(180)">Asn-VH3</text>
<text class="el" dy="7" text-anchor="end" transform="rotate(227.36) translate(272) rotate(180)">Asn-VH7</text>
<text class="el" dy="7" text-anchor="end" transform="rotate(233.08) translate(272) rotate(180)">Asn-VH5</text>
<text class="el" dy="7" text-anchor="end" transform="rotate(238.8) translate(272) rotate(180)">Asn-VH1</text>
<text class="el" dy="7" text-anchor="end" transform="rotate(244.52) translate(272) rotate(180)">Asn-VH6</text>
<text class="el" dy="7" text-anchor="end" transform="rotate(250.24) translate(272) rotate(180)">Mmu-VH8</text>
<text class="el" dy="7" text-anchor="end" transform="rotate(255.96) translate(272) rotate(180)">Has-VH2</text>
<text class="el" dy="7" text-anchor="end" transform="rotate(261.68) translate(272) rotate(180)">Ecb-VH2</text>
<text class="el" dy="7" text-anchor="end" transform="rotate(267.4) translate(272) rotate(180)">Ecb-VH1</text>
<text class="el" dy="7" transform="rotate(273.12) translate(272)">Oas-VH9</text>
<text class="el" dy="7" transform="rotate(278.84) translate(272)">Mmu-VH2</text>
<text class="el" dy="7" transform="rotate(284.56) translate(272)">Oas-VH1</text>
<text class="el" dy="7" transform="rotate(290.28) translate(272)">Bom-VH19</text>
<text class="el" dy="7" transform="rotate(296) translate(272)">Bta-VH1</text>
<text class="el" dy="7" transform="rotate(301.72) translate(272)">Mmu-VH12</text>
<text class="el" dy="7" transform="rotate(307.44) translate(272)">Oas-VH8</text>
<text class="el" dy="7" transform="rotate(313.16) translate(272)">Mmu-VH6</text>
<text class="el" dy="7" transform="rotate(318.88) translate(272)">Mmu-VH3</text>
<text class="el" dy="7" transform="rotate(324.6) translate(272)">Oas-VH5</text>
<text class="el" dy="7" transform="rotate(330.32) translate(272)">Has-VH6</text>
<text class="el" dy="7" transform="rotate(336.04) translate(272)">Bom-VH2</text>
<text class="el" dy="7" transform="rotate(341.76) translate(272)">Bta-VH2</text>
<text class="el" dy="7" transform="rotate(347.48) translate(272)">Ecb-VH3</text>
<text class="el" dy="7" transform="rotate(353.2) translate(272)">Oas-VH7</text>
<text class="el" dy="7" transform="rotate(358.92) translate(272)">Has-VH4</text>
<text class="el" dy="7" transform="rotate(364.64) translate(272)">Gga-VH1</text>
<text class="el" dy="7" transform="rotate(370.36) translate(272)">Xla-VH8</text>
<text class="el" dy="7" transform="rotate(376.08) translate(272)">Xla-VH6</text>
<text class="el" dy="7" transform="rotate(381.8) translate(272)">Xla-VH3</text>
<text class="el" dy="7" transform="rotate(387.52) translate(272)">Xla-VH7</text>
<text class="el" dy="7" transform="rotate(393.24) translate(272)">Xla-VH2</text>
<text class="el" dy="7" transform="rotate(398.96) translate(272)">Mmu-VH7</text>
<text class="el" dy="7" transform="rotate(404.68) translate(272)">Mmu-VH16</text>
<text class="el" dy="7" transform="rotate(410.4) translate(272)">Mmu-VH11</text>
<text class="el" dy="7" transform="rotate(416.12) translate(272)">Mmu-VH13</text>
<text class="el" dy="7" transform="rotate(421.84) translate(272)">Mmu-VH10</text>
<text class="el" dy="7" transform="rotate(427.56) translate(272)">Has-VH3</text>
<text class="el" dy="7" transform="rotate(433.28) translate(272)">Oas-VH2</text>
<text class="el" dy="7" transform="rotate(439) translate(272)">Mmu-VH5</text>
<text class="el" dy="7" transform="rotate(444.72) translate(272)">Mmu-VH4</text>
<text class="el" dy="7" text-anchor="end" transform="rotate(450.44) translate(272) rotate(180)">Xla-VH1</text>
<text class="el" dy="7" text-anchor="end" transform="rotate(456.16) translate(272) rotate(180)">Dre-VH1</text>
<text class="el" dy="7" text-anchor="end" transform="rotate(461.88) translate(272) rotate(180)">Xla-VH5</text>
<text class="el" dy="7" text-anchor="end" transform="rotate(467.6) translate(272) rotate(180)">Gci-VH1</text>
<text class="el" dy="7" text-anchor="end" transform="rotate(473.32) translate(272) rotate(180)">Xla-VH9</text>
<text class="el" dy="7" text-anchor="end" transform="rotate(479.04) translate(272) rotate(180)">Xla-VH4</text>
<text class="el" dy="7" text-anchor="end" transform="rotate(484.76) translate(272) rotate(180)">Asn-VH2</text>
<text class="el" dy="7" text-anchor="end" transform="rotate(490.48) translate(272) rotate(180)">Oas-VH6</text>
<text class="el" dy="7" text-anchor="end" transform="rotate(496.2) translate(272) rotate(180)">Has-VH5</text>
<text class="el" dy="7" text-anchor="end" transform="rotate(501.92) translate(272) rotate(180)">Mmu-VH9</text>
<text class="el" dy="7" text-anchor="end" transform="rotate(507.64) translate(272) rotate(180)">Has-VH7</text>
<text class="el" dy="7" text-anchor="end" transform="rotate(513.36) translate(272) rotate(180)">Oas-VH4</text>
<text class="el" dy="7" text-anchor="end" transform="rotate(519.08) translate(272) rotate(180)">Has-VH1</text>
<text class="el" dy="7" text-anchor="end" transform="rotate(524.8) translate(272) rotate(180)">Mmu-VH14</text>
<text class="el" dy="7" text-anchor="end" transform="rotate(530.52) translate(272) rotate(180)">Oas-VH3</text>
<text class="el" dy="7" text-anchor="end" transform="rotate(536.24) translate(272) rotate(180)">Mmu-VH1</text>
<text class="el" dy="7" text-anchor="end" transform="rotate(541.96) translate(272) rotate(180)">Mmu-VH15</text>
<text class="el" dy="7" text-anchor="end" transform="rotate(547.68) translate(272) rotate(180)">Bom-VH3</text>
<text class="el" dy="7" text-anchor="end" transform="rotate(553.4) translate(272) rotate(180)">Bta-VH3</text>
</g>
</g>

<!-- ===== Panel F ===== -->
<text class="pl" x="759" y="1556">F</text>
<text x="920" y="1539" font-size="25" textLength="291" lengthAdjust="spacingAndGlyphs">Phylogenetic Tree of CH</text>
<g id="f-tree" transform="translate(1032,1872)">
<g id="connectors-F" class="f">
<path d="M0,0H82" transform="rotate(208.5)"/><path d="M0,0H174" transform="rotate(215.02)"/><path d="M0,0H142" transform="rotate(221.54)"/><path d="M0,0H207" transform="rotate(228.06)"/><path d="M0,0H79" transform="rotate(234.58)"/><path d="M0,0H89" transform="rotate(241.1)"/><path d="M0,0H103" transform="rotate(247.62)"/><path d="M0,0H84" transform="rotate(254.14)"/><path d="M0,0H109" transform="rotate(260.66)"/><path d="M0,0H22" transform="rotate(378.065)"/>
<circle r="22" pathLength="360" stroke-dasharray="176.75 360" transform="rotate(289.69)"/>
<path d="M22,0H55" transform="rotate(289.69)"/><path d="M22,0H45" transform="rotate(370.075)"/><path d="M22,0H50" transform="rotate(466.44)"/>
<circle r="55" pathLength="360" stroke-dasharray="32.805 360" transform="rotate(273.29)"/>
<path d="M55,0H75" transform="rotate(273.29)"/><path d="M55,0H70" transform="rotate(306.095)"/>
<circle r="75" pathLength="360" stroke-dasharray="12.225 360" transform="rotate(267.18)"/>
<path d="M75,0H126" transform="rotate(267.18)"/><path d="M75,0H95" transform="rotate(279.405)"/>
<circle r="95" pathLength="360" stroke-dasharray="11.41 360" transform="rotate(273.7)"/>
<path d="M95,0H127" transform="rotate(273.7)"/><path d="M95,0H105" transform="rotate(285.11)"/>
<circle r="105" pathLength="360" stroke-dasharray="9.78 360" transform="rotate(280.22)"/>
<path d="M105,0H131" transform="rotate(280.22)"/><path d="M105,0H115" transform="rotate(290)"/>
<circle r="115" pathLength="360" stroke-dasharray="6.52 360" transform="rotate(286.74)"/>
<path d="M115,0H135" transform="rotate(286.74)"/><path d="M115,0H132" transform="rotate(293.26)"/>
<circle r="70" pathLength="360" stroke-dasharray="12.63 360" transform="rotate(299.78)"/>
<path d="M70,0H104" transform="rotate(299.78)"/><path d="M70,0H85" transform="rotate(312.41)"/>
<circle r="85" pathLength="360" stroke-dasharray="12.225 360" transform="rotate(306.3)"/>
<path d="M85,0H128" transform="rotate(306.3)"/><path d="M85,0H88" transform="rotate(318.525)"/>
<circle r="88" pathLength="360" stroke-dasharray="11.41 360" transform="rotate(312.82)"/>
<path d="M88,0H104" transform="rotate(312.82)"/><path d="M88,0H90" transform="rotate(324.23)"/>
<circle r="90" pathLength="360" stroke-dasharray="9.78 360" transform="rotate(319.34)"/>
<path d="M90,0H101" transform="rotate(319.34)"/><path d="M90,0H93" transform="rotate(329.12)"/>
<circle r="93" pathLength="360" stroke-dasharray="6.52 360" transform="rotate(325.86)"/>
<path d="M93,0H99" transform="rotate(325.86)"/><path d="M93,0H100" transform="rotate(332.38)"/>
<circle r="45" pathLength="360" stroke-dasharray="33.01 360" transform="rotate(353.57)"/>
<path d="M45,0H80" transform="rotate(353.57)"/><path d="M45,0H75" transform="rotate(386.58)"/>
<circle r="80" pathLength="360" stroke-dasharray="19.56 360" transform="rotate(343.79)"/>
<path d="M80,0H95" transform="rotate(343.79)"/><path d="M80,0H100" transform="rotate(363.35)"/>
<circle r="95" pathLength="360" stroke-dasharray="9.78 360" transform="rotate(338.9)"/>
<path d="M95,0H118" transform="rotate(338.9)"/><path d="M95,0H108" transform="rotate(348.68)"/>
<circle r="108" pathLength="360" stroke-dasharray="6.52 360" transform="rotate(345.42)"/>
<path d="M108,0H144" transform="rotate(345.42)"/><path d="M108,0H137" transform="rotate(351.94)"/>
<circle r="100" pathLength="360" stroke-dasharray="9.78 360" transform="rotate(358.46)"/>
<path d="M100,0H134" transform="rotate(358.46)"/><path d="M100,0H120" transform="rotate(368.24)"/>
<circle r="120" pathLength="360" stroke-dasharray="6.52 360" transform="rotate(364.98)"/>
<path d="M120,0H168" transform="rotate(364.98)"/><path d="M120,0H128" transform="rotate(371.5)"/>
<circle r="75" pathLength="360" stroke-dasharray="17.115 360" transform="rotate(378.02)"/>
<path d="M75,0H165" transform="rotate(378.02)"/><path d="M75,0H110" transform="rotate(395.135)"/>
<circle r="110" pathLength="360" stroke-dasharray="14.67 360" transform="rotate(387.8)"/>
<path d="M110,0H140" transform="rotate(387.8)"/><path d="M110,0H160" transform="rotate(402.47)"/>
<circle r="140" pathLength="360" stroke-dasharray="6.52 360" transform="rotate(384.54)"/>
<path d="M140,0H195" transform="rotate(384.54)"/><path d="M140,0H196" transform="rotate(391.06)"/>
<circle r="160" pathLength="360" stroke-dasharray="9.78 360" transform="rotate(397.58)"/>
<path d="M160,0H187" transform="rotate(397.58)"/><path d="M160,0H170" transform="rotate(407.36)"/>
<circle r="170" pathLength="360" stroke-dasharray="6.52 360" transform="rotate(404.1)"/>
<path d="M170,0H182" transform="rotate(404.1)"/><path d="M170,0H185" transform="rotate(410.62)"/>
<circle r="50" pathLength="360" stroke-dasharray="52.96 360" transform="rotate(439.96)"/>
<path d="M50,0H70" transform="rotate(439.96)"/><path d="M50,0H65" transform="rotate(492.92)"/>
<circle r="70" pathLength="360" stroke-dasharray="26.08 360" transform="rotate(426.92)"/>
<path d="M70,0H80" transform="rotate(426.92)"/><path d="M70,0H90" transform="rotate(453)"/>
<circle r="80" pathLength="360" stroke-dasharray="13.04 360" transform="rotate(420.4)"/>
<path d="M80,0H85" transform="rotate(420.4)"/><path d="M80,0H86" transform="rotate(433.44)"/>
<circle r="85" pathLength="360" stroke-dasharray="6.52 360" transform="rotate(417.14)"/>
<path d="M85,0H90" transform="rotate(417.14)"/><path d="M85,0H87" transform="rotate(423.66)"/>
<circle r="86" pathLength="360" stroke-dasharray="6.52 360" transform="rotate(430.18)"/>
<path d="M86,0H91" transform="rotate(430.18)"/><path d="M86,0H94" transform="rotate(436.7)"/>
<circle r="90" pathLength="360" stroke-dasharray="13.04 360" transform="rotate(446.48)"/>
<path d="M90,0H100" transform="rotate(446.48)"/><path d="M90,0H105" transform="rotate(459.52)"/>
<circle r="100" pathLength="360" stroke-dasharray="6.52 360" transform="rotate(443.22)"/>
<path d="M100,0H110" transform="rotate(443.22)"/><path d="M100,0H121" transform="rotate(449.74)"/>
<circle r="105" pathLength="360" stroke-dasharray="6.52 360" transform="rotate(456.26)"/>
<path d="M105,0H122" transform="rotate(456.26)"/><path d="M105,0H120" transform="rotate(462.78)"/>
<circle r="65" pathLength="360" stroke-dasharray="27.685 360" transform="rotate(479.08)"/>
<path d="M65,0H82" transform="rotate(479.08)"/><path d="M65,0H80" transform="rotate(506.765)"/>
<circle r="82" pathLength="360" stroke-dasharray="13.04 360" transform="rotate(472.56)"/>
<path d="M82,0H90" transform="rotate(472.56)"/><path d="M82,0H92" transform="rotate(485.6)"/>
<circle r="90" pathLength="360" stroke-dasharray="6.52 360" transform="rotate(469.3)"/>
<path d="M90,0H101" transform="rotate(469.3)"/><path d="M90,0H101" transform="rotate(475.82)"/>
<circle r="92" pathLength="360" stroke-dasharray="6.52 360" transform="rotate(482.34)"/>
<path d="M92,0H105" transform="rotate(482.34)"/><path d="M92,0H107" transform="rotate(488.86)"/>
<circle r="80" pathLength="360" stroke-dasharray="16.25 360" transform="rotate(498.64)"/>
<path d="M80,0H90" transform="rotate(498.64)"/><path d="M80,0H84" transform="rotate(514.89)"/>
<circle r="90" pathLength="360" stroke-dasharray="6.52 360" transform="rotate(495.38)"/>
<path d="M90,0H101" transform="rotate(495.38)"/><path d="M90,0H99" transform="rotate(501.9)"/>
<circle r="84" pathLength="360" stroke-dasharray="12.94 360" transform="rotate(508.42)"/>
<path d="M84,0H91" transform="rotate(508.42)"/><path d="M84,0H86" transform="rotate(521.36)"/>
<circle r="86" pathLength="360" stroke-dasharray="12.835 360" transform="rotate(514.94)"/>
<path d="M86,0H94" transform="rotate(514.94)"/><path d="M86,0H88" transform="rotate(527.775)"/>
<circle r="88" pathLength="360" stroke-dasharray="12.63 360" transform="rotate(521.46)"/>
<path d="M88,0H90" transform="rotate(521.46)"/><path d="M88,0H90" transform="rotate(534.09)"/>
<circle r="90" pathLength="360" stroke-dasharray="12.225 360" transform="rotate(527.98)"/>
<path d="M90,0H96" transform="rotate(527.98)"/><path d="M90,0H91" transform="rotate(540.205)"/>
<circle r="91" pathLength="360" stroke-dasharray="11.41 360" transform="rotate(534.5)"/>
<path d="M91,0H93" transform="rotate(534.5)"/><path d="M91,0H93" transform="rotate(545.91)"/>
<circle r="93" pathLength="360" stroke-dasharray="9.78 360" transform="rotate(541.02)"/>
<path d="M93,0H96" transform="rotate(541.02)"/><path d="M93,0H96" transform="rotate(550.8)"/>
<circle r="96" pathLength="360" stroke-dasharray="6.52 360" transform="rotate(547.54)"/>
<path d="M96,0H103" transform="rotate(547.54)"/><path d="M96,0H102" transform="rotate(554.06)"/>
</g>
<g id="f-labels">
<text class="fl" dy="6.5" text-anchor="end" transform="rotate(208.5) translate(122) rotate(180)">Acs-Mu</text>
<text class="fl" dy="6.5" text-anchor="end" transform="rotate(215.02) translate(214) rotate(180)">Mmu-Delta</text>
<text class="fl" dy="6.5" text-anchor="end" transform="rotate(221.54) translate(182) rotate(180)">Acs-Delta</text>
<text class="fl" dy="6.5" text-anchor="end" transform="rotate(228.06) translate(247) rotate(180)">Mmu-Epsilon</text>
<text class="fl" dy="6.5" text-anchor="end" transform="rotate(234.58) translate(119) rotate(180)">Xla-Mu</text>
<text class="fl" dy="6.5" text-anchor="end" transform="rotate(241.1) translate(129) rotate(180)">Gci-Mu</text>
<text class="fl" dy="6.5" text-anchor="end" transform="rotate(247.62) translate(143) rotate(180)">Dre-Mu</text>
<text class="fl" dy="6.5" text-anchor="end" transform="rotate(254.14) translate(124) rotate(180)">Gga-Mu</text>
<text class="fl" dy="6.5" text-anchor="end" transform="rotate(260.66) translate(149) rotate(180)">Gga-Alpha</text>
<text class="fl" dy="6.5" text-anchor="end" transform="rotate(267.18) translate(166) rotate(180)">Hsa-Epsilon</text>
<text class="fl" dy="6.5" transform="rotate(273.7) translate(167)">Ecb-Epsilon</text>
<text class="fl" dy="6.5" transform="rotate(280.22) translate(171)">Oas-Epsilon</text>
<text class="fl" dy="6.5" transform="rotate(286.74) translate(175)">Bom-Epsilon</text>
<text class="fl" dy="6.5" transform="rotate(293.26) translate(172)">Bta-Epsilon</text>
<text class="fl" dy="6.5" transform="rotate(299.78) translate(144)">Ecb-Mu</text>
<text class="fl" dy="6.5" transform="rotate(306.3) translate(168)">Mmu-Mu</text>
<text class="fl" dy="6.5" transform="rotate(312.82) translate(144)">Hsa-Mu</text>
<text class="fl" dy="6.5" transform="rotate(319.34) translate(141)">Oas-Mu</text>
<text class="fl" dy="6.5" transform="rotate(325.86) translate(139)">Bom-Mu</text>
<text class="fl" dy="6.5" transform="rotate(332.38) translate(140)">Bta-Mu</text>
<text class="fl" dy="6.5" transform="rotate(338.9) translate(158)">Ecb-Alpha</text>
<text class="fl" dy="6.5" transform="rotate(345.42) translate(184)">Mmu-Alpha</text>
<text class="fl" dy="6.5" transform="rotate(351.94) translate(177)">Hsa-Alpha</text>
<text class="fl" dy="6.5" transform="rotate(358.46) translate(174)">Oas-Alpha</text>
<text class="fl" dy="6.5" transform="rotate(364.98) translate(208)">Bom-Alpha</text>
<text class="fl" dy="6.5" transform="rotate(371.5) translate(168)">Bta-Alpha</text>
<text class="fl" dy="6.5" transform="rotate(378.02) translate(205)">Dnh-Delta</text>
<text class="fl" dy="6.5" transform="rotate(384.54) translate(235)">Ecb-Delta</text>
<text class="fl" dy="6.5" transform="rotate(391.06) translate(236)">Hsa-Delta</text>
<text class="fl" dy="6.5" transform="rotate(397.58) translate(227)">Oas-Delta</text>
<text class="fl" dy="6.5" transform="rotate(404.1) translate(222)">Bta-Delta</text>
<text class="fl" dy="6.5" transform="rotate(410.62) translate(225)">Bom-Delta</text>
<text class="fl" dy="6.5" transform="rotate(417.14) translate(130)">Hsa-Gamma3a</text>
<text class="fl" dy="6.5" transform="rotate(423.66) translate(127)">Hsa-Gamma3b</text>
<text class="fl" dy="6.5" transform="rotate(430.18) translate(131)">Hsa-Gamma2b</text>
<text class="fl" dy="6.5" transform="rotate(436.7) translate(134)">Hsa-Gamma2a</text>
<text class="fl" dy="6.5" transform="rotate(443.22) translate(150)">Mmu-Gamma3</text>
<text class="fl" dy="6.5" transform="rotate(449.74) translate(161)">Mmu-Gamma1</text>
<text class="fl" dy="6.5" text-anchor="end" transform="rotate(456.26) translate(162) rotate(180)">Mmu-Gamma2b</text>
<text class="fl" dy="6.5" text-anchor="end" transform="rotate(462.78) translate(160) rotate(180)">Mmu-Gamma2a</text>
<text class="fl" dy="6.5" text-anchor="end" transform="rotate(469.3) translate(141) rotate(180)">Bom-Gamma3</text>
<text class="fl" dy="6.5" text-anchor="end" transform="rotate(475.82) translate(141) rotate(180)">Bta-Gamma3</text>
<text class="fl" dy="6.5" text-anchor="end" transform="rotate(482.34) translate(145) rotate(180)">Oas-Gamma2</text>
<text class="fl" dy="6.5" text-anchor="end" transform="rotate(488.86) translate(147) rotate(180)">Oas-Gamma1</text>
<text class="fl" dy="6.5" text-anchor="end" transform="rotate(495.38) translate(141) rotate(180)">Bom-Gamma1</text>
<text class="fl" dy="6.5" text-anchor="end" transform="rotate(501.9) translate(139) rotate(180)">Bom-Gamma2</text>
<text class="fl" dy="6.5" text-anchor="end" transform="rotate(508.42) translate(131) rotate(180)">Bta-Gamma1</text>
<text class="fl" dy="6.5" text-anchor="end" transform="rotate(514.94) translate(134) rotate(180)">Ecb-Gamma1</text>
<text class="fl" dy="6.5" text-anchor="end" transform="rotate(521.46) translate(130) rotate(180)">Ecb-Gamma7</text>
<text class="fl" dy="6.5" text-anchor="end" transform="rotate(527.98) translate(136) rotate(180)">Ecb-Gamma3</text>
<text class="fl" dy="6.5" text-anchor="end" transform="rotate(534.5) translate(133) rotate(180)">Ecb-Gamma6</text>
<text class="fl" dy="6.5" text-anchor="end" transform="rotate(541.02) translate(136) rotate(180)">Ecb-Gamma5</text>
<text class="fl" dy="6.5" text-anchor="end" transform="rotate(547.54) translate(143) rotate(180)">Ecb-Gamma2</text>
<text class="fl" dy="6.5" text-anchor="end" transform="rotate(554.06) translate(142) rotate(180)">Bta-Gamma2</text>
</g>
</g>
</svg>
